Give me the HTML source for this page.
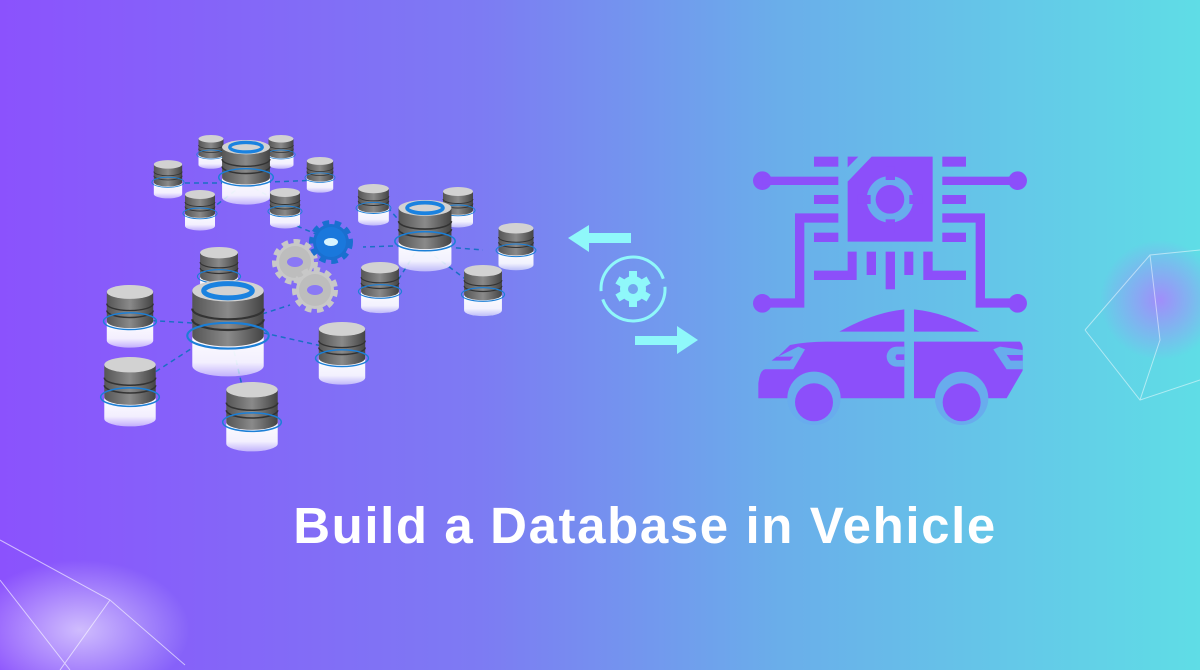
<!DOCTYPE html>
<html><head><meta charset="utf-8"><style>
html,body{margin:0;padding:0}
body{width:1200px;height:670px;overflow:hidden;position:relative;background:linear-gradient(90deg,#8b52fd 0%,#7d7bf3 40%,#6aaeea 65%,#5fdde6 100%);font-family:"Liberation Sans",sans-serif}
.t{position:absolute;left:0;width:1290px;text-align:center;top:496px;font-size:51px;font-weight:bold;color:#fff;letter-spacing:1.6px}
</style></head><body>
<svg width="1200" height="670" style="position:absolute;left:0;top:0">
<defs>
<linearGradient id="bd" x1="0" x2="1"><stop offset="0" stop-color="#555"/><stop offset=".5" stop-color="#8a8a8a"/><stop offset="1" stop-color="#444"/></linearGradient>
<linearGradient id="rf" x1="0" y1="0" x2="0" y2="1"><stop offset="0" stop-color="#fff"/><stop offset=".7" stop-color="#fff" stop-opacity=".9"/><stop offset="1" stop-color="#fff" stop-opacity="0.5"/></linearGradient>
<radialGradient id="gl" cx=".5" cy=".5" r=".5"><stop offset="0" stop-color="#b07bff" stop-opacity=".8"/><stop offset="1" stop-color="#b07bff" stop-opacity="0"/></radialGradient>
<radialGradient id="gl2" cx=".5" cy=".5" r=".5"><stop offset="0" stop-color="#ffffff" stop-opacity=".6"/><stop offset="1" stop-color="#ffffff" stop-opacity="0"/></radialGradient>
<symbol id="c" viewBox="-10 0 120 140">
<path d="M0,70 L0,120 A50,15 0 0 0 100,120 L100,70 Z" fill="url(#rf)"/>
<path d="M0,15 L0,78 A50,15 0 0 0 100,78 L100,15 Z" fill="url(#bd)"/>
<path d="M0,40 A50,15 0 0 0 100,40" fill="none" stroke="#333" stroke-width="3"/>
<path d="M0,55 A50,15 0 0 0 100,55" fill="none" stroke="#333" stroke-width="3"/>
<ellipse cx="50" cy="15" rx="50" ry="15" fill="#d2d2d2"/>
<ellipse cx="50" cy="78" rx="57" ry="18" fill="none" stroke="#1c7fd6" stroke-width="3"/>
</symbol>
<symbol id="C" viewBox="-10 0 120 140">
<path d="M0,70 L0,120 A50,15 0 0 0 100,120 L100,70 Z" fill="url(#rf)"/>
<path d="M0,15 L0,78 A50,15 0 0 0 100,78 L100,15 Z" fill="url(#bd)"/>
<path d="M0,40 A50,15 0 0 0 100,40" fill="none" stroke="#333" stroke-width="3"/>
<path d="M0,55 A50,15 0 0 0 100,55" fill="none" stroke="#333" stroke-width="3"/>
<ellipse cx="50" cy="15" rx="50" ry="15" fill="#d2d2d2"/>
<ellipse cx="50" cy="15" rx="34" ry="10" fill="none" stroke="#1a82e0" stroke-width="7"/>
<ellipse cx="50" cy="78" rx="57" ry="18" fill="none" stroke="#1c7fd6" stroke-width="3"/>
</symbol>
</defs>
<ellipse cx="1160" cy="300" rx="60" ry="60" fill="url(#gl)"/>
<g stroke="#fff" stroke-opacity=".5" fill="none"><path d="M1085,330 L1150,255 L1200,250 M1085,330 L1140,400 L1200,380 M1150,255 L1160,340 L1140,400"/></g>
<ellipse cx="80" cy="630" rx="110" ry="70" fill="url(#gl2)"/>
<g stroke="#fff" stroke-opacity=".6" fill="none"><path d="M0,540 L110,600 L185,665 M0,580 L70,670 M110,600 L60,670"/></g>
<g stroke="#1a6fc4" stroke-width="1.5" stroke-dasharray="5,4" fill="none">
<path d="M185,183 L245,183 L320,180 M210,210 L245,183 M290,208 L245,183 M297,226 L330,240 M420,245 L363,247 M420,245 L483,250 M420,245 L395,285 M420,245 L480,290 M420,245 L390,210 M228,325 L140,320 M228,325 L135,385 M228,325 L340,350 M228,325 L243,390 M228,325 L290,305"/>
</g>
<use href="#c" x="151" y="160" width="34" height="40"/>
<use href="#c" x="196" y="135" width="30" height="35"/>
<use href="#c" x="266" y="135" width="30" height="35"/>
<use href="#c" x="304" y="157" width="32" height="37"/>
<use href="#c" x="182" y="190" width="36" height="42"/>
<use href="#c" x="267" y="188" width="36" height="42"/>
<use href="#C" x="217" y="140" width="58" height="67"/>
<use href="#c" x="355" y="184" width="37" height="43"/>
<use href="#c" x="440" y="187" width="36" height="42"/>
<use href="#c" x="495" y="223" width="42" height="49"/>
<use href="#c" x="460" y="265" width="46" height="53"/>
<use href="#c" x="357" y="262" width="46" height="53"/>
<use href="#C" x="393" y="200" width="64" height="74"/>
<use href="#c" x="196" y="247" width="46" height="53"/>
<use href="#c" x="102" y="285" width="56" height="65"/>
<use href="#c" x="99" y="357" width="62" height="72"/>
<use href="#c" x="314" y="322" width="56" height="65"/>
<use href="#c" x="221" y="382" width="62" height="72"/>
<use href="#C" x="185" y="280" width="86" height="100"/>
<g transform="translate(295,262)"><circle r="19" fill="#c8c8c8" stroke="#c8c8c8" stroke-width="8" stroke-dasharray="6,5"/><circle r="16" fill="#bdbdbd"/><ellipse rx="8" ry="5" fill="#8a78f5"/></g>
<g transform="translate(315,290)"><circle r="19" fill="#c8c8c8" stroke="#c8c8c8" stroke-width="8" stroke-dasharray="6,5"/><circle r="16" fill="#bdbdbd"/><ellipse rx="8" ry="5" fill="#8a78f5"/></g>
<g transform="translate(331,242)"><circle r="18" fill="#1a6fd0" stroke="#1a6fd0" stroke-width="8" stroke-dasharray="6,5"/><circle r="15" fill="#1a78dc"/><ellipse rx="7" ry="4" fill="#d8f4ff"/></g>
<g fill="#8ff8fa">
<polygon points="568,238 589,225 589,233 631,233 631,243 589,243 589,252"/>
<polygon points="698,340 677,326 677,336 635,336 635,345 677,345 677,354"/>
<circle cx="633" cy="289" r="13"/>
<g transform="translate(633,289)"><rect x="-4" y="-18" width="8" height="36"/><rect x="-4" y="-18" width="8" height="36" transform="rotate(60)"/><rect x="-4" y="-18" width="8" height="36" transform="rotate(120)"/></g>
</g>
<circle cx="633" cy="289" r="5" fill="#73a6ee"/>
<circle cx="633" cy="289" r="32" fill="none" stroke="#8ff8fa" stroke-width="3" stroke-dasharray="92,8.5" transform="rotate(-4 633 289)"/>
<g transform="translate(740,150) scale(0.3333)" fill="#8c4ffa">
<polygon points="323,95 395,20 578,20 578,275 323,275"/>
<polygon points="323,20 355,20 323,52"/>
<circle cx="450" cy="148" r="70" fill="#68aced"/>
<circle cx="450" cy="148" r="43"/>
<rect x="437" y="50" width="28" height="40"/><rect x="437" y="208" width="28" height="40"/>
<rect x="352" y="135" width="40" height="27"/><rect x="508" y="135" width="40" height="27"/>
<rect x="222" y="20" width="73" height="30"/><rect x="222" y="135" width="73" height="27"/><rect x="222" y="248" width="73" height="28"/>
<rect x="607" y="20" width="71" height="30"/><rect x="607" y="135" width="71" height="27"/><rect x="607" y="248" width="71" height="28"/>
<circle cx="67" cy="92" r="28"/><rect x="67" y="80" width="228" height="25"/>
<circle cx="833" cy="92" r="28"/><rect x="607" y="80" width="226" height="25"/>
<path d="M295,190 L165,190 L165,445 L67,445 L67,473 L193,473 L193,218 L295,218 Z"/>
<circle cx="67" cy="460" r="28"/>
<path d="M607,190 L735,190 L735,445 L833,445 L833,473 L707,473 L707,218 L607,218 Z"/>
<circle cx="833" cy="460" r="28"/>
<path d="M323,305 L350,305 L350,390 L222,390 L222,362 L323,362 Z"/>
<path d="M578,305 L550,305 L550,390 L678,390 L678,362 L578,362 Z"/>
<rect x="380" y="305" width="28" height="70"/><rect x="437" y="305" width="28" height="113"/><rect x="493" y="305" width="27" height="70"/>
<path d="M298,545 Q400,488 493,478 L493,545 Z"/>
<path d="M522,478 Q620,488 718,545 L522,545 Z"/>
<path d="M150,585 Q200,575 260,575 L493,575 L493,745 L55,745 L55,700 Q60,660 75,658 L150,585 Z"/>
<path d="M522,575 L840,575 Q850,585 848,600 L848,662 L800,745 L522,745 Z"/>
<g fill="#68aced">
<circle cx="222" cy="745" r="80"/><circle cx="665" cy="745" r="80"/>
<polygon points="90,632 175,590 195,598 160,658 70,658"/>
<polygon points="760,598 780,590 848,600 848,658 800,658"/>
<path d="M470,590 A30,30 0 0 0 470,650 L493,650 L493,590 Z"/>
</g>
<polygon points="95,632 150,632 160,620 110,620"/>
<polygon points="800,615 848,615 848,632 812,632"/>
<path d="M470,613 A12,12 0 0 0 470,630 L493,630 L493,613 Z"/>
<circle cx="222" cy="757" r="57"/><circle cx="665" cy="757" r="57"/>
</g>
</svg>
<div class="t">Build a Database in Vehicle</div>
</body></html>
